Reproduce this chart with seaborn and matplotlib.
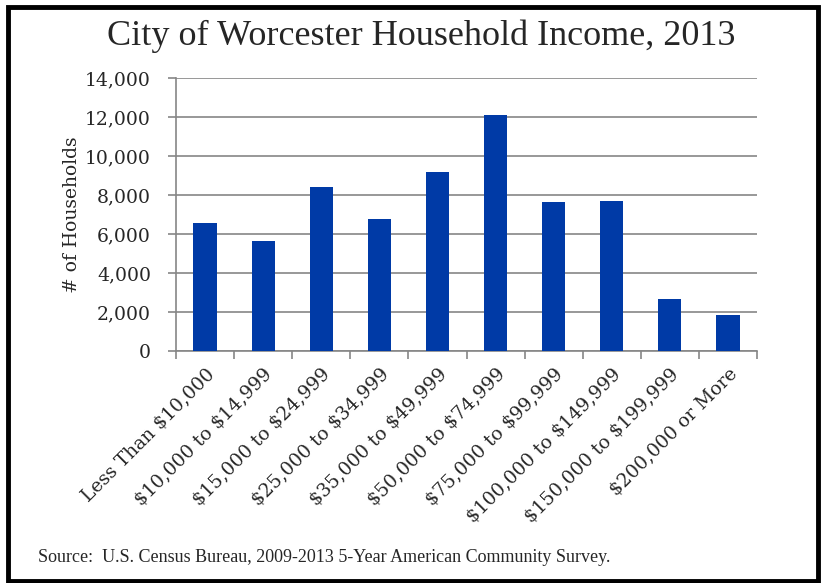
import matplotlib
matplotlib.use("Agg")
import matplotlib.pyplot as plt
from matplotlib.patches import Rectangle
from matplotlib.ticker import FuncFormatter, FixedLocator
import seaborn as sns
import pandas as pd

# income brackets and household counts
brackets = ["Less Than $10,000", "$10,000 to $14,999", "$15,000 to $24,999",
            "$25,000 to $34,999", "$35,000 to $49,999", "$50,000 to $74,999",
            "$75,000 to $99,999", "$100,000 to $149,999", "$150,000 to $199,999",
            "$200,000 or More"]
households = [6560, 5640, 8410, 6770, 9180, 12100, 7640, 7690, 2670, 1850]
yticks = [0, 2000, 4000, 6000, 8000, 10000, 12000, 14000]

df = pd.DataFrame({"bracket": brackets, "households": households})

sns.set_style("white")
plt.rcParams['font.family'] = ['DejaVu Serif']
grid_col = "#868686"

fig = plt.figure(figsize=(8.25, 5.83), dpi=100)
ax = fig.add_axes([176/825, 1 - 351/583, (757-176)/825, (351-78.3)/583])

sns.barplot(data=df, x="bracket", y="households", color="#003AA6",
            width=0.4, saturation=1, linewidth=0, ax=ax, zorder=3)

ax.set_ylim(0, 14000)
ax.set_xlim(-0.5, len(brackets) - 0.5)
ax.set_yticks(yticks)
ax.yaxis.set_major_formatter(FuncFormatter(lambda v, p: f"{int(v):,}"))
ax.grid(axis="y", color=grid_col, linewidth=1.2, zorder=0)
ax.set_axisbelow(True)

for s in ["top", "right"]:
    ax.spines[s].set_visible(False)
for s in ["left", "bottom"]:
    ax.spines[s].set_color(grid_col)
    ax.spines[s].set_linewidth(1.2)

ax.tick_params(axis="y", length=6, width=1.2, color=grid_col, direction="out",
               labelsize=13.5, pad=12, left=True)
ax.xaxis.set_minor_locator(FixedLocator([i - 0.5 for i in range(len(brackets) + 1)]))
ax.tick_params(axis="x", which="major", length=0, labelsize=13.5, pad=10)
ax.tick_params(axis="x", which="minor", length=6, width=1.2, color=grid_col,
               direction="out", bottom=True)
ax.set_xticks(range(len(brackets)))
ax.set_xticklabels(brackets, rotation=45, ha="right", rotation_mode="anchor",
                   parse_math=False)

ax.set_xlabel("")
ax.set_ylabel("# of Households", fontsize=13.5, labelpad=3)

fig.text(0.511, 0.938, "City of Worcester Household Income, 2013",
         ha="center", va="center", fontsize=26, family="Liberation Serif")
fig.text(38/825, 1 - 558/583,
         "Source:  U.S. Census Bureau, 2009-2013 5-Year American Community Survey.",
         ha="left", va="center", fontsize=13, family="Liberation Serif",
         parse_math=False)

# black frame around the figure
fig.patches.append(Rectangle((7.5/825, 2/583), (818 - 7.5)/825, (576 - 2)/583,
                             transform=fig.transFigure, fill=False,
                             edgecolor="black", linewidth=3.5))

plt.savefig("out.png", dpi=100)
